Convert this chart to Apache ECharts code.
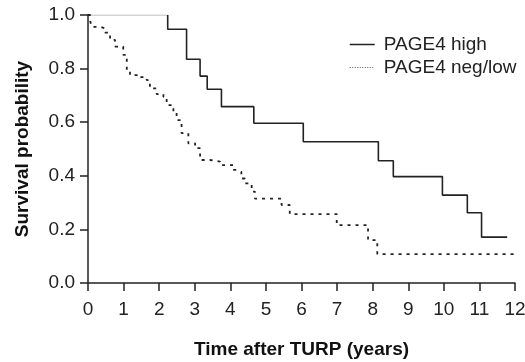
<!DOCTYPE html>
<html>
<head>
<meta charset="utf-8">
<script src="https://cdn.jsdelivr.net/npm/echarts@6/dist/echarts.min.js"></script>
<style>
  html, body { margin: 0; padding: 0; background: #fff; }
  #chart { width: 525px; height: 362px; }
</style>
</head>
<body>
<div id="chart"></div>
<script>
// Kaplan-Meier steps: [time in years, survival after the drop]
const highTimes = [0, 2.24, 2.24, 2.77, 3.15, 3.35, 3.75, 4.66, 6.05, 8.16, 8.58, 9.96, 10.66, 11.06, 11.78];
const highValues = [1.0, 1.0, 0.947, 0.835, 0.772, 0.723, 0.658, 0.596, 0.527, 0.456, 0.397, 0.328, 0.262, 0.171, 0.171];

const lowTimes = [0, 0.06, 0.1, 0.34, 0.48, 0.62, 0.76, 0.99, 1.09, 1.18, 1.46, 1.65, 1.74, 1.93, 2.12, 2.21,
  2.4, 2.49, 2.63, 2.82, 3.01, 3.15, 3.43, 3.71, 4.08, 4.17, 4.31, 4.41, 4.6, 4.69, 5.44, 5.67, 6.99, 7.87, 8.13, 12];
const lowValues = [1.0, 0.979, 0.956, 0.95, 0.934, 0.907, 0.882, 0.851, 0.795, 0.776, 0.768, 0.757, 0.726, 0.705, 0.695, 0.664,
  0.639, 0.608, 0.559, 0.521, 0.503, 0.459, 0.453, 0.44, 0.422, 0.415, 0.39, 0.372, 0.341, 0.315, 0.291, 0.257, 0.216, 0.16, 0.108, 0.108];

const xTicks = [0, 1, 2, 3, 4, 5, 6, 7, 8, 9, 10, 11, 12];
const yTicks = [0.0, 0.2, 0.4, 0.6, 0.8, 1.0];

const seriesNames = ['PAGE4 high', 'PAGE4 neg/low'];

const pairs = (xs, ys) => xs.map((x, i) => [x, ys[i]]);

const chart = echarts.init(document.getElementById('chart'));

chart.setOption({
  animation: false,
  textStyle: { fontFamily: 'Liberation Sans, Arial, sans-serif' },
  grid: { left: 88, right: 10, top: 15, bottom: 79, outerBoundsMode: 'none' },
  legend: {
    data: [
      { name: seriesNames[0], lineStyle: { color: '#222', width: 1.5 } },
      { name: seriesNames[1], lineStyle: { color: '#555', width: 1, type: [1, 1.5] } }
    ],
    orient: 'vertical',
    left: 344,
    top: 30,
    itemWidth: 25,
    itemHeight: 14,
    itemGap: 4,
    itemStyle: { opacity: 0 },
    textStyle: { fontSize: 19, color: '#222', padding: [0, 0, 0, 4] }
  },
  xAxis: {
    type: 'value',
    min: xTicks[0],
    max: xTicks[xTicks.length - 1],
    interval: 1,
    name: 'Time after TURP (years)',
    nameLocation: 'middle',
    nameGap: 57,
    nameTextStyle: { fontSize: 19, fontWeight: 'bold', color: '#111' },
    axisLine: { lineStyle: { color: '#222', width: 1.5 } },
    axisTick: { length: 8, lineStyle: { color: '#222', width: 1.5 } },
    axisLabel: { fontSize: 19, color: '#222', margin: 17 },
    splitLine: { show: false }
  },
  yAxis: {
    type: 'value',
    min: yTicks[0],
    max: yTicks[yTicks.length - 1],
    interval: 0.2,
    name: 'Survival probability',
    nameLocation: 'middle',
    nameGap: 56,
    nameTextStyle: { fontSize: 19, fontWeight: 'bold', color: '#111' },
    axisLine: { show: true, lineStyle: { color: '#222', width: 1.5 } },
    axisTick: { show: true, length: 8, lineStyle: { color: '#222', width: 1.5 } },
    axisLabel: { fontSize: 19, color: '#222', margin: 13, formatter: (v) => v.toFixed(1) },
    splitLine: { show: false }
  },
  series: [
    {
      // light first plateau of the high group, as in the print
      type: 'line',
      step: 'end',
      symbol: 'none',
      data: pairs(highTimes, highValues).slice(0, 2),
      lineStyle: { color: '#aaa', width: 1.2 },
      z: 1
    },
    {
      name: seriesNames[0],
      type: 'line',
      step: 'end',
      symbol: 'none',
      data: pairs(highTimes, highValues).slice(1),
      lineStyle: { color: '#222', width: 1.6 },
      itemStyle: { color: '#222' },
      z: 3
    },
    {
      name: seriesNames[1],
      type: 'line',
      step: 'end',
      symbol: 'none',
      data: pairs(lowTimes, lowValues),
      lineStyle: { color: '#222', width: 1.8, type: [3, 5] },
      itemStyle: { color: '#222' },
      z: 2
    }
  ]
});
</script>
</body>
</html>
